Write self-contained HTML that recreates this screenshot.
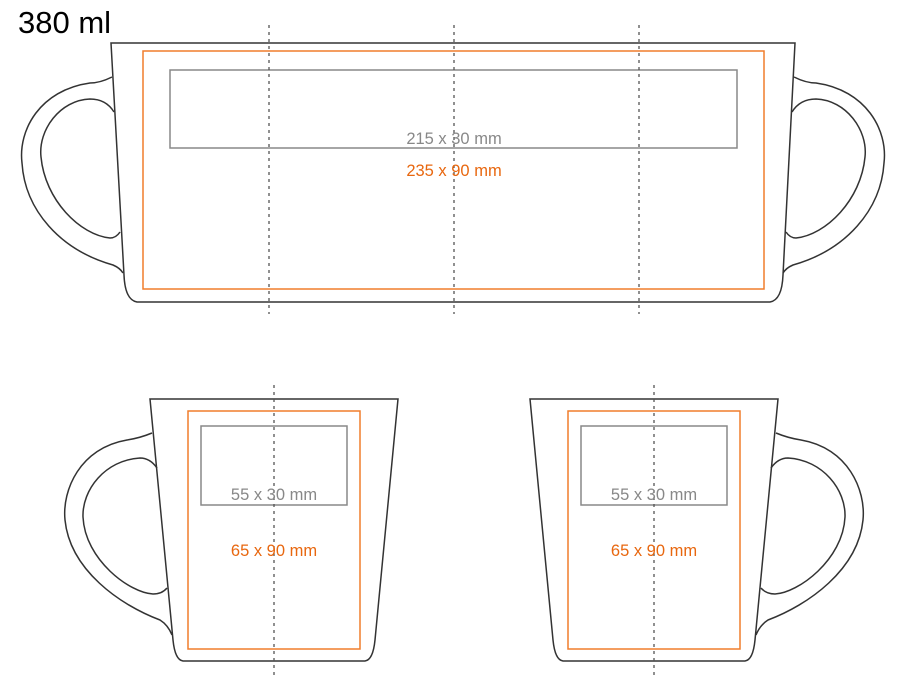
<!DOCTYPE html>
<html><head><meta charset="utf-8"><style>
html,body{margin:0;padding:0;background:#fff;}
svg{display:block;}
text{font-family:"Liberation Sans",sans-serif;}
</style></head><body>
<svg width="900" height="687" viewBox="0 0 900 687" xmlns="http://www.w3.org/2000/svg">
<text x="18" y="33" font-size="31" fill="#000">380 ml</text>

<!-- Top mug -->
<g fill="none" stroke="#333" stroke-width="1.5">
  <path d="M111,43 L795,43 L783,275 Q782,300 770,302 L137,302 Q125,300 124,275 Z" fill="#fff"/>
  <g id="th">
    <path d="M112,77 Q100,83 90,83 C40,90 18,130 22,163 C25,210 60,250 113,265 Q120,268 123,273"/>
    <path d="M114,112 Q106,99 90,99 C60,100 38,130 41,157 C45,200 80,235 110,238 Q116,238 120,232"/>
  </g>
  <use href="#th" transform="translate(906,0) scale(-1,1)"/>
</g>
<rect x="143" y="51" width="621" height="238" fill="none" stroke="#f07d2c" stroke-width="1.5"/>
<rect x="170" y="70" width="567" height="78" fill="none" stroke="#888" stroke-width="1.5"/>
<g stroke="#555" stroke-width="1.3" stroke-dasharray="3,4">
  <line x1="269" y1="25" x2="269" y2="314"/>
  <line x1="454" y1="25" x2="454" y2="314"/>
  <line x1="639" y1="25" x2="639" y2="314"/>
</g>
<text x="454" y="144" font-size="16.5" fill="#888" text-anchor="middle">215 x 30 mm</text>
<text x="454" y="176" font-size="16.5" fill="#e8670f" text-anchor="middle">235 x 90 mm</text>

<!-- Bottom mugs -->
<g id="sm">
  <g fill="none" stroke="#333" stroke-width="1.5">
    <path d="M150,399 L398,399 L375,640 Q373,660 365,661 L183,661 Q175,660 173,640 Z" fill="#fff"/>
    <path d="M152,433 Q140,438 127,440 C80,448 62,490 65,520 C70,570 120,605 160,620 Q168,625 172,635"/>
    <path d="M157,468 Q150,458 140,458 C105,460 82,490 83,517 C85,560 130,593 153,594 Q162,594 167,588"/>
  </g>
  <rect x="188" y="411" width="172" height="238" fill="none" stroke="#f07d2c" stroke-width="1.5"/>
  <rect x="201" y="426" width="146" height="79" fill="none" stroke="#888" stroke-width="1.5"/>
  <line x1="274" y1="385" x2="274" y2="676" stroke="#555" stroke-width="1.3" stroke-dasharray="3,4"/>
</g>
<use href="#sm" transform="translate(928,0) scale(-1,1)"/>
<text x="274" y="500" font-size="16.5" fill="#888" text-anchor="middle">55 x 30 mm</text>
<text x="274" y="556" font-size="16.5" fill="#e8670f" text-anchor="middle">65 x 90 mm</text>
<text x="654" y="500" font-size="16.5" fill="#888" text-anchor="middle">55 x 30 mm</text>
<text x="654" y="556" font-size="16.5" fill="#e8670f" text-anchor="middle">65 x 90 mm</text>
</svg>
</body></html>
